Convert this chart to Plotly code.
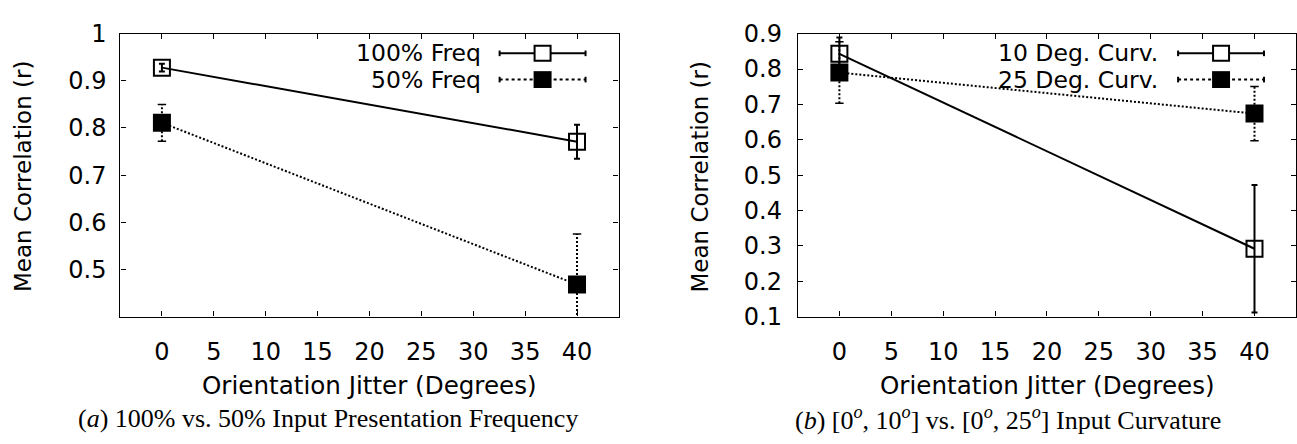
import plotly.graph_objects as go

W, H = 1297, 444

# ---------------- data ----------------
jitter = [0, 40]

freq100 = [0.928, 0.771]
freq100_err = [0.008, 0.036]
freq50 = [0.811, 0.468]
freq50_err = [0.039, 0.107]

curv10 = [0.843, 0.292]
curv10_err = [0.046, 0.180]
curv25 = [0.790, 0.674]
curv25_err = [0.087, 0.077]

x_ticks = [0, 5, 10, 15, 20, 25, 30, 35, 40]
y_ticks_a = [0.5, 0.6, 0.7, 0.8, 0.9, 1.0]
y_labels_a = ["0.5", "0.6", "0.7", "0.8", "0.9", "1"]
y_ticks_b = [0.1, 0.2, 0.3, 0.4, 0.5, 0.6, 0.7, 0.8, 0.9]
y_labels_b = ["0.1", "0.2", "0.3", "0.4", "0.5", "0.6", "0.7", "0.8", "0.9"]

legend_a = ["100% Freq", "50% Freq"]
legend_b = ["10 Deg. Curv.", "25 Deg. Curv."]

caption_a = "(<i>a</i>) 100% vs. 50% Input Presentation Frequency"
caption_b = ("(<i>b</i>) [0<sup><i>o</i></sup>, 10<sup><i>o</i></sup>] vs. "
             "[0<sup><i>o</i></sup>, 25<sup><i>o</i></sup>] Input Curvature")

# ---------------- style ----------------
SANS = "DejaVu Sans"
SERIF = "Liberation Serif"
FS_TICK = 24
FS_TEXT = 24.6
FS_LEG = 23.5
FS_YTITLE = 23
DOT = "2px,2px"


def px(x):
    return x / W


def py(y):
    return 1 - y / H


fig = go.Figure()


def add_panel(xa, ya, s1, e1, s2, e2):
    # solid series with error bars
    fig.add_trace(go.Scatter(
        x=jitter, y=s1, mode="lines+markers", xaxis=xa, yaxis=ya,
        line=dict(color="black", width=2),
        marker=dict(symbol="square-open", size=16, color="black",
                    line=dict(color="black", width=2)),
        error_y=dict(type="data", array=e1, color="black", thickness=2, width=3),
        showlegend=False))
    # dotted series error bars (drawn as dotted segments)
    ex, ey, cx, cy = [], [], [], []
    for xv, yv, ev in zip(jitter, s2, e2):
        ex += [xv, xv, None]
        ey += [yv - ev, yv + ev, None]
        cx += [xv, xv]
        cy += [yv - ev, yv + ev]
    fig.add_trace(go.Scatter(
        x=ex, y=ey, mode="lines", xaxis=xa, yaxis=ya,
        line=dict(color="black", width=2, dash=DOT), showlegend=False))
    fig.add_trace(go.Scatter(
        x=cx, y=cy, mode="markers", xaxis=xa, yaxis=ya, cliponaxis=True,
        marker=dict(symbol="line-ew", size=6, line=dict(color="black", width=1.5)),
        showlegend=False))
    fig.add_trace(go.Scatter(
        x=jitter, y=s2, mode="lines+markers", xaxis=xa, yaxis=ya,
        line=dict(color="black", width=2, dash=DOT),
        marker=dict(symbol="square", size=18, color="black",
                    line=dict(width=0)),
        showlegend=False))


add_panel("x", "y", freq100, freq100_err, freq50, freq50_err)
add_panel("x2", "y2", curv10, curv10_err, curv25, curv25_err)

ydom = [py(323), py(21)]
axis_common = dict(showline=True, linecolor="black", linewidth=1.3, mirror="ticks",
                   ticks="inside", ticklen=5, tickwidth=1, tickcolor="black",
                   showgrid=False, zeroline=False,
                   tickfont=dict(family=SANS, size=FS_TICK, color="black"))

fig.update_layout(
    width=W, height=H, margin=dict(l=0, r=0, t=0, b=0),
    paper_bgcolor="white", plot_bgcolor="white", showlegend=False,
    xaxis=dict(domain=[px(120.5), px(619)], range=[-4, 44], tickvals=x_ticks,
               ticklabelstandoff=13, anchor="y", **axis_common),
    yaxis=dict(domain=ydom, range=[0.4, 1.0], tickvals=y_ticks_a, ticktext=y_labels_a,
               ticklabelstandoff=8, anchor="x", **axis_common),
    xaxis2=dict(domain=[px(798.5), 1.0], range=[-4, 44], tickvals=x_ticks,
                ticklabelstandoff=13, anchor="y2", **axis_common),
    yaxis2=dict(domain=ydom, range=[0.1, 0.9], tickvals=y_ticks_b, ticktext=y_labels_b,
                ticklabelstandoff=10, anchor="x2", **axis_common),
)

annotations = []
shapes = []

# axis titles and captions
for xc_plot, xc_cap, ytx, cap in [(370, 328, 23, caption_a), (1048, 1009, 701, caption_b)]:
    annotations.append(dict(text="Orientation Jitter (Degrees)", x=px(xc_plot), y=py(396),
                            xref="paper", yref="paper", showarrow=False,
                            xanchor="center", yanchor="middle",
                            font=dict(family=SANS, size=FS_TEXT, color="black")))
    annotations.append(dict(text="Mean Correlation (r)", x=px(ytx), y=py(173),
                            xref="paper", yref="paper", showarrow=False, textangle=-90,
                            xanchor="center", yanchor="middle",
                            font=dict(family=SANS, size=FS_YTITLE, color="black")))
    annotations.append(dict(text=cap, x=px(xc_cap), y=py(432),
                            xref="paper", yref="paper", showarrow=False,
                            xanchor="center", yanchor="middle",
                            font=dict(family=SERIF, size=26, color="black")))

# legends (key samples)
for labels, text_right, l0, l1 in [(legend_a, 483, 500, 586), (legend_b, 1161, 1179, 1265)]:
    mc = (l0 + l1) / 2
    for i, (lab, yrow) in enumerate(zip(labels, [42, 70])):
        annotations.append(dict(text=lab, x=px(text_right), y=py(yrow),
                                xref="paper", yref="paper", showarrow=False,
                                xanchor="right", yanchor="middle",
                                font=dict(family=SANS, size=FS_LEG, color="black")))
        dash = "solid" if i == 0 else "dot"
        shapes.append(dict(type="line", xref="paper", yref="paper",
                           x0=px(l0), x1=px(l1), y0=py(yrow), y1=py(yrow),
                           line=dict(color="black", width=2, dash=dash)))
        for xe in (l0, l1):
            shapes.append(dict(type="line", xref="paper", yref="paper",
                               x0=px(xe), x1=px(xe), y0=py(yrow - 3), y1=py(yrow + 3),
                               line=dict(color="black", width=2)))
        if i == 0:
            shapes.append(dict(type="rect", xref="paper", yref="paper",
                               x0=px(mc - 8), x1=px(mc + 8), y0=py(yrow + 8), y1=py(yrow - 8),
                               line=dict(color="black", width=2), fillcolor="white"))
        else:
            shapes.append(dict(type="rect", xref="paper", yref="paper",
                               x0=px(mc - 9), x1=px(mc + 9), y0=py(yrow + 9), y1=py(yrow - 9),
                               line=dict(width=0), fillcolor="black"))

fig.update_layout(annotations=annotations, shapes=shapes)
fig.write_html("out.html")
